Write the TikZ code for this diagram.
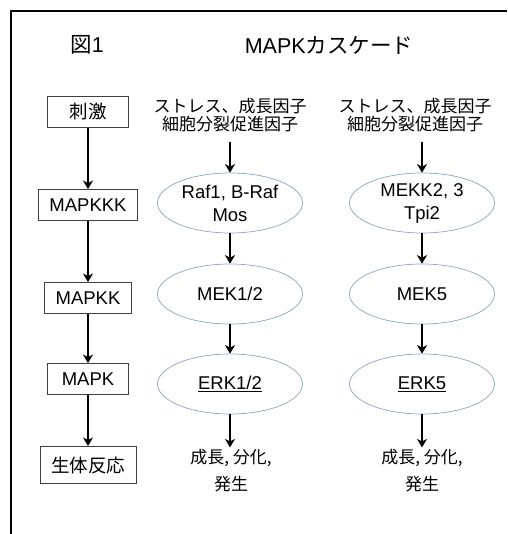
\documentclass[tikz,border=0pt]{standalone}
\usepackage{fontspec}
\setmainfont{Liberation Sans}
\newfontfamily\jp{Noto Sans CJK JP}
\usetikzlibrary{arrows.meta, shapes.geometric}

\definecolor{ekblue}{RGB}{140,165,195}

\tikzset{
  stagebox/.style={draw=black!75, line width=0.9pt, minimum width=81pt,
    minimum height=31pt, inner xsep=11pt, font=\fontsize{18.5}{22}\selectfont},
  kinase/.style={ellipse, draw=ekblue, line width=0.7pt, minimum width=145pt,
    minimum height=60pt, inner sep=0pt, align=center,
    font=\fontsize{18.5}{23}\selectfont},
  cause/.style={align=center, inner sep=2pt, font=\jp\fontsize{17}{18}\selectfont},
  result/.style={align=center, inner sep=2pt, font=\jp\fontsize{17}{27}\selectfont},
  flow/.style={-{Stealth[length=8.5pt,width=10pt,inset=2.5pt]}, line width=1.6pt},
}

\begin{document}
\begin{tikzpicture}[x=1pt, y=-1pt]
    \useasboundingbox (0,0) rectangle (507,534);

    % Frame (open to the right and bottom)
    \draw[line width=1.8pt] (11,534) -- (11,11) -- (507,11);

    % Titles
    \node[font=\fontsize{21.5}{24}\selectfont] (fignum) at (87,45) {{\jp 図}1};
    \node[font=\fontsize{21.5}{24}\selectfont] (title) at (329,45) {MAPK{\jp カスケード}};

    % Generic cascade
    \node[stagebox] (stim) at (88,112) {\jp 刺激};
    \node[stagebox] (mkkk) at (88,205) {MAPKKK};
    \node[stagebox] (mkk) at (88,298) {MAPKK};
    \node[stagebox] (mk) at (88,379) {MAPK};
    \node[stagebox, minimum height=37pt] (resp) at (88,465) {\jp 生体反応};

    \draw[flow] (stim) -- (mkkk);
    \draw[flow] (mkkk) -- (mkk);
    \draw[flow] (mkk) -- (mk);
    \draw[flow] (mk) -- (resp);

    % ERK1/2 pathway
    \node[cause] (srcA) at (230,115) {ストレス、成長因子\\細胞分裂促進因子};
    \node[kinase] (kkkA) at (230,203) {Raf1, B-Raf\\Mos};
    \node[kinase] (kkA) at (230,294) {MEK1/2};
    \node[kinase] (kA) at (230,384) {\underline{ERK1/2}};
    \node[result] (outA) at (231,471) {成長, 分化,\\発生};

    \draw[flow, shorten <=8pt] (srcA.south -| kkkA.north) -- (kkkA);
    \draw[flow] (kkkA) -- (kkA);
    \draw[flow] (kkA) -- (kA);
    \draw[flow] (kA) -- (kA |- outA.north);

    % ERK5 pathway
    \node[cause] (srcB) at (415,115) {ストレス、成長因子\\細胞分裂促進因子};
    \node[kinase] (kkkB) at (422,203) {MEKK2, 3\\Tpi2};
    \node[kinase] (kkB) at (422,294) {MEK5};
    \node[kinase] (kB) at (422,384) {\underline{ERK5}};
    \node[result] (outB) at (422,471) {成長, 分化,\\発生};

    \draw[flow, shorten <=8pt] (srcB.south -| kkkB.north) -- (kkkB);
    \draw[flow] (kkkB) -- (kkB);
    \draw[flow] (kkB) -- (kB);
    \draw[flow] (kB) -- (kB |- outB.north);
\end{tikzpicture}
\end{document}
